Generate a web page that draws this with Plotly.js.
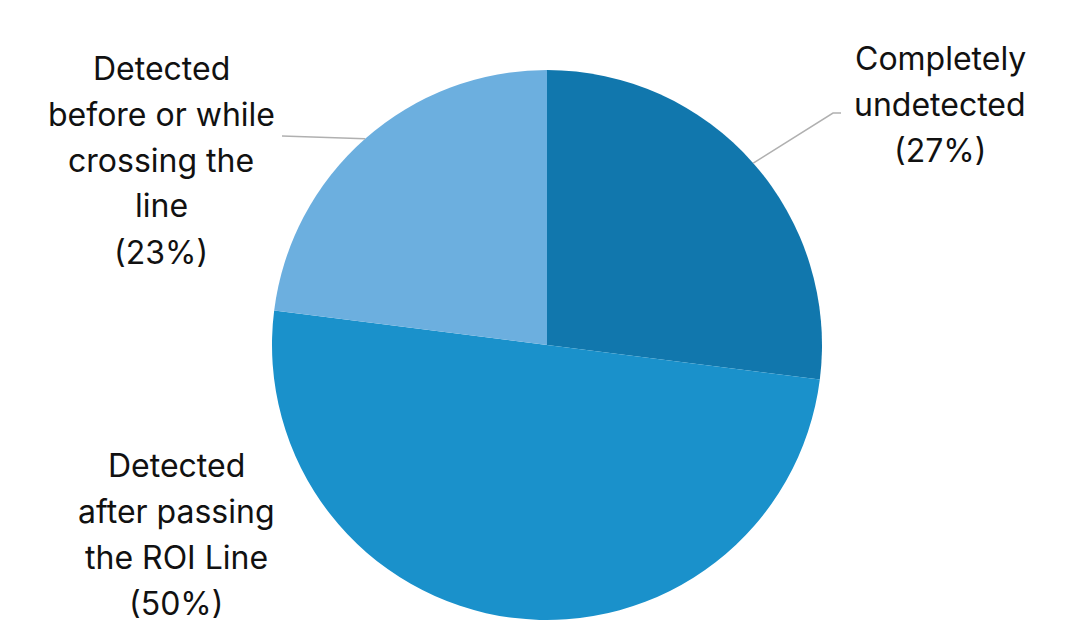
<!DOCTYPE html>
<html>
<head>
<meta charset="utf-8">
<script src="https://cdn.plot.ly/plotly-3.0.1.min.js"></script>
<style>html,body{margin:0;padding:0;background:#fff;}#chart{width:1080px;height:642px;}</style>
</head>
<body>
<div id="chart"></div>
<script>
const categories = ["Completely undetected", "Detected after passing the ROI Line", "Detected before or while crossing the line"];
const values = [27, 50, 23];
const colors = ["#1177ad", "#1a91cb", "#6cafdf"];
const labelLines = [
  ["Completely", "undetected", "(27%)"],
  ["Detected", "after passing", "the ROI Line", "(50%)"],
  ["Detected", "before or while", "crossing the", "line", "(23%)"]
];
// label block placement (pixels): center x, first line center y
const labelPos = [[940, 58], [176, 465], [161, 68]];
const lineGap = 46;

const W = 1080, H = 642;
const cx = 547, cy = 345, R = 275;

const annotations = [];
labelLines.forEach((lines, i) => {
  lines.forEach((t, j) => {
    annotations.push({
      xref: 'paper', yref: 'paper',
      x: labelPos[i][0] / W, y: 1 - (labelPos[i][1] + j * lineGap) / H,
      text: t, showarrow: false, xanchor: 'center', yanchor: 'middle',
      font: {family: 'Inter, Lato, sans-serif', size: 32, color: '#111'}
    });
  });
});

// leader lines from slice mid-angle points on the rim
const total = values.reduce((a, b) => a + b, 0);
let cum = 0;
const mids = values.map(v => { const m = (cum + v / 2) / total; cum += v; return m * 2 * Math.PI; });
function rim(a) { return [cx + R * Math.sin(a), cy - R * Math.cos(a)]; }
const shapes = [];
const p0 = rim(mids[0]);
shapes.push({type: 'path', xref: 'paper', yref: 'paper',
  path: `M ${p0[0]/W} ${1-p0[1]/H} L ${833/W} ${1-113/H} L ${841/W} ${1-113/H}`,
  line: {color: '#b0b0b0', width: 1.5}});
const p2 = rim(mids[2]);
shapes.push({type: 'path', xref: 'paper', yref: 'paper',
  path: `M ${p2[0]/W} ${1-p2[1]/H} L ${282/W} ${1-136/H}`,
  line: {color: '#b0b0b0', width: 1.5}});

const data = [{
  type: 'pie',
  labels: categories,
  values: values,
  sort: false,
  direction: 'clockwise',
  rotation: 0,
  marker: {colors: colors, line: {width: 0}},
  textinfo: 'none',
  hoverinfo: 'label+percent',
  domain: {x: [(cx - R) / W, (cx + R) / W], y: [(H - cy - R) / H, (H - cy + R) / H]},
  showlegend: false
}];

const layout = {
  width: W, height: H,
  margin: {l: 0, r: 0, t: 0, b: 0},
  paper_bgcolor: '#fff',
  showlegend: false,
  annotations: annotations,
  shapes: shapes
};
Plotly.newPlot('chart', data, layout, {displayModeBar: false, staticPlot: true});
</script>
</body>
</html>
